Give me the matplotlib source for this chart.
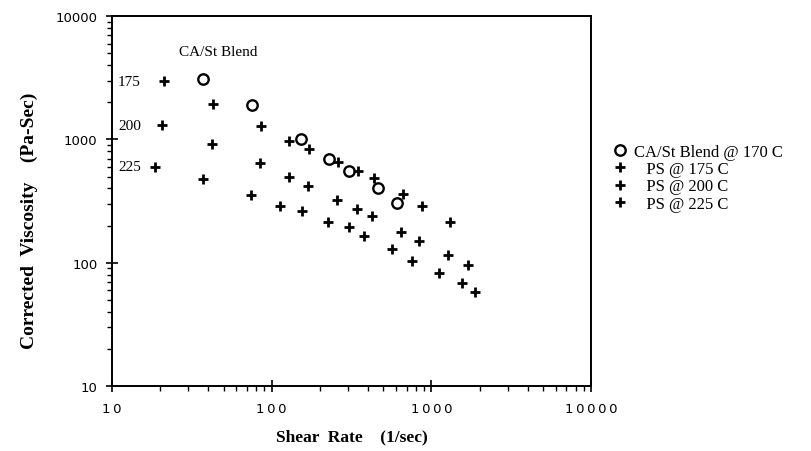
import matplotlib
matplotlib.use("Agg")
import matplotlib.pyplot as plt

# CA/St blend @ 170 C
blend_rate = [37, 75, 152, 228, 305, 463, 609]
blend_visc = [3080, 1890, 1000, 690, 550, 400, 307]

# PS @ 175 C
ps175_rate = [21, 43, 86, 128, 171, 260, 347, 437, 664, 873, 1307]
ps175_visc = [2960, 1930, 1280, 980, 830, 650, 550, 490, 364, 290, 215]

# PS @ 200 C
ps200_rate = [20.5, 42, 84.5, 128, 169, 256, 342, 425, 645, 836, 1270, 1690]
ps200_visc = [1300, 910, 640, 500, 415, 325, 275, 237, 179, 151, 116, 95]

# PS @ 225 C
ps225_rate = [18.6, 37, 74, 113, 155, 225, 305, 378, 567, 756, 1116, 1555, 1875]
ps225_visc = [600, 473, 357, 290, 265, 215, 193, 166, 128, 104, 83, 69, 58]

row_labels = ["175", "200", "225"]
row_label_visc = [2960, 1300, 600]

serif = "Liberation Serif"

fig = plt.figure(figsize=(8.12, 4.52), dpi=100)
ax = fig.add_axes([0.138, 0.144, 0.590, 0.818])

ax.plot(blend_rate, blend_visc, linestyle="none", marker="o", markersize=7.5,
        markerfacecolor="white", markeredgecolor="black", markeredgewidth=1.7,
        label="CA/St Blend @ 170 C")
ax.plot(ps175_rate, ps175_visc, linestyle="none", marker="+", markersize=7,
        markeredgewidth=2, color="black", label="   PS @ 175 C")
ax.plot(ps200_rate, ps200_visc, linestyle="none", marker="+", markersize=7,
        markeredgewidth=2, color="black", label="   PS @ 200 C")
ax.plot(ps225_rate, ps225_visc, linestyle="none", marker="+", markersize=7,
        markeredgewidth=2, color="black", label="   PS @ 225 C")

ax.set_xscale("log")
ax.set_yscale("log")
ax.set_xlim(10, 10000)
ax.set_ylim(10, 10000)

ax.set_xticks([10, 100, 1000, 10000])
ax.set_xticklabels(["1\u20090", "1\u20090\u20090", "1\u20090\u20090\u20090",
                    "1\u20090\u20090\u20090\u20090"], family="DejaVu Sans", fontsize=9.5)
ax.set_yticks([10, 100, 1000, 10000])
ax.set_yticklabels(["10", "100", "1000", "10000"], family="DejaVu Sans", fontsize=9.5)

ax.tick_params(which="major", direction="inout", length=9, width=1.2,
               top=False, right=False)
ax.tick_params(which="minor", direction="out", length=3.5, width=1,
               top=False, right=False)
ax.tick_params(axis="x", which="major", pad=7)
ax.tick_params(axis="y", which="major", pad=6)
for s in ax.spines.values():
    s.set_linewidth(1.4)

ax.set_xlabel("Shear  Rate    (1/sec)", family=serif, fontweight="bold",
              fontsize=12.5, labelpad=10)
ax.set_ylabel("Corrected  Viscosity    (Pa-Sec)", family=serif, fontweight="bold",
              fontsize=14)
ax.yaxis.set_label_coords(-0.155, 0.45)

ax.text(46, 5190, "CA/St Blend", family=serif, fontsize=11, ha="center", va="center")
for lab, v in zip(row_labels, row_label_visc):
    ax.text(10.9, v, lab, family=serif, fontsize=11, ha="left", va="center")

leg = ax.legend(loc="upper left", bbox_to_anchor=(1.045, 0.655), frameon=False,
                prop={"family": serif, "size": 12}, handletextpad=0.4,
                labelspacing=0.08, handlelength=0.9, borderaxespad=0,
                borderpad=0)

fig.savefig("out.png", dpi=100)
